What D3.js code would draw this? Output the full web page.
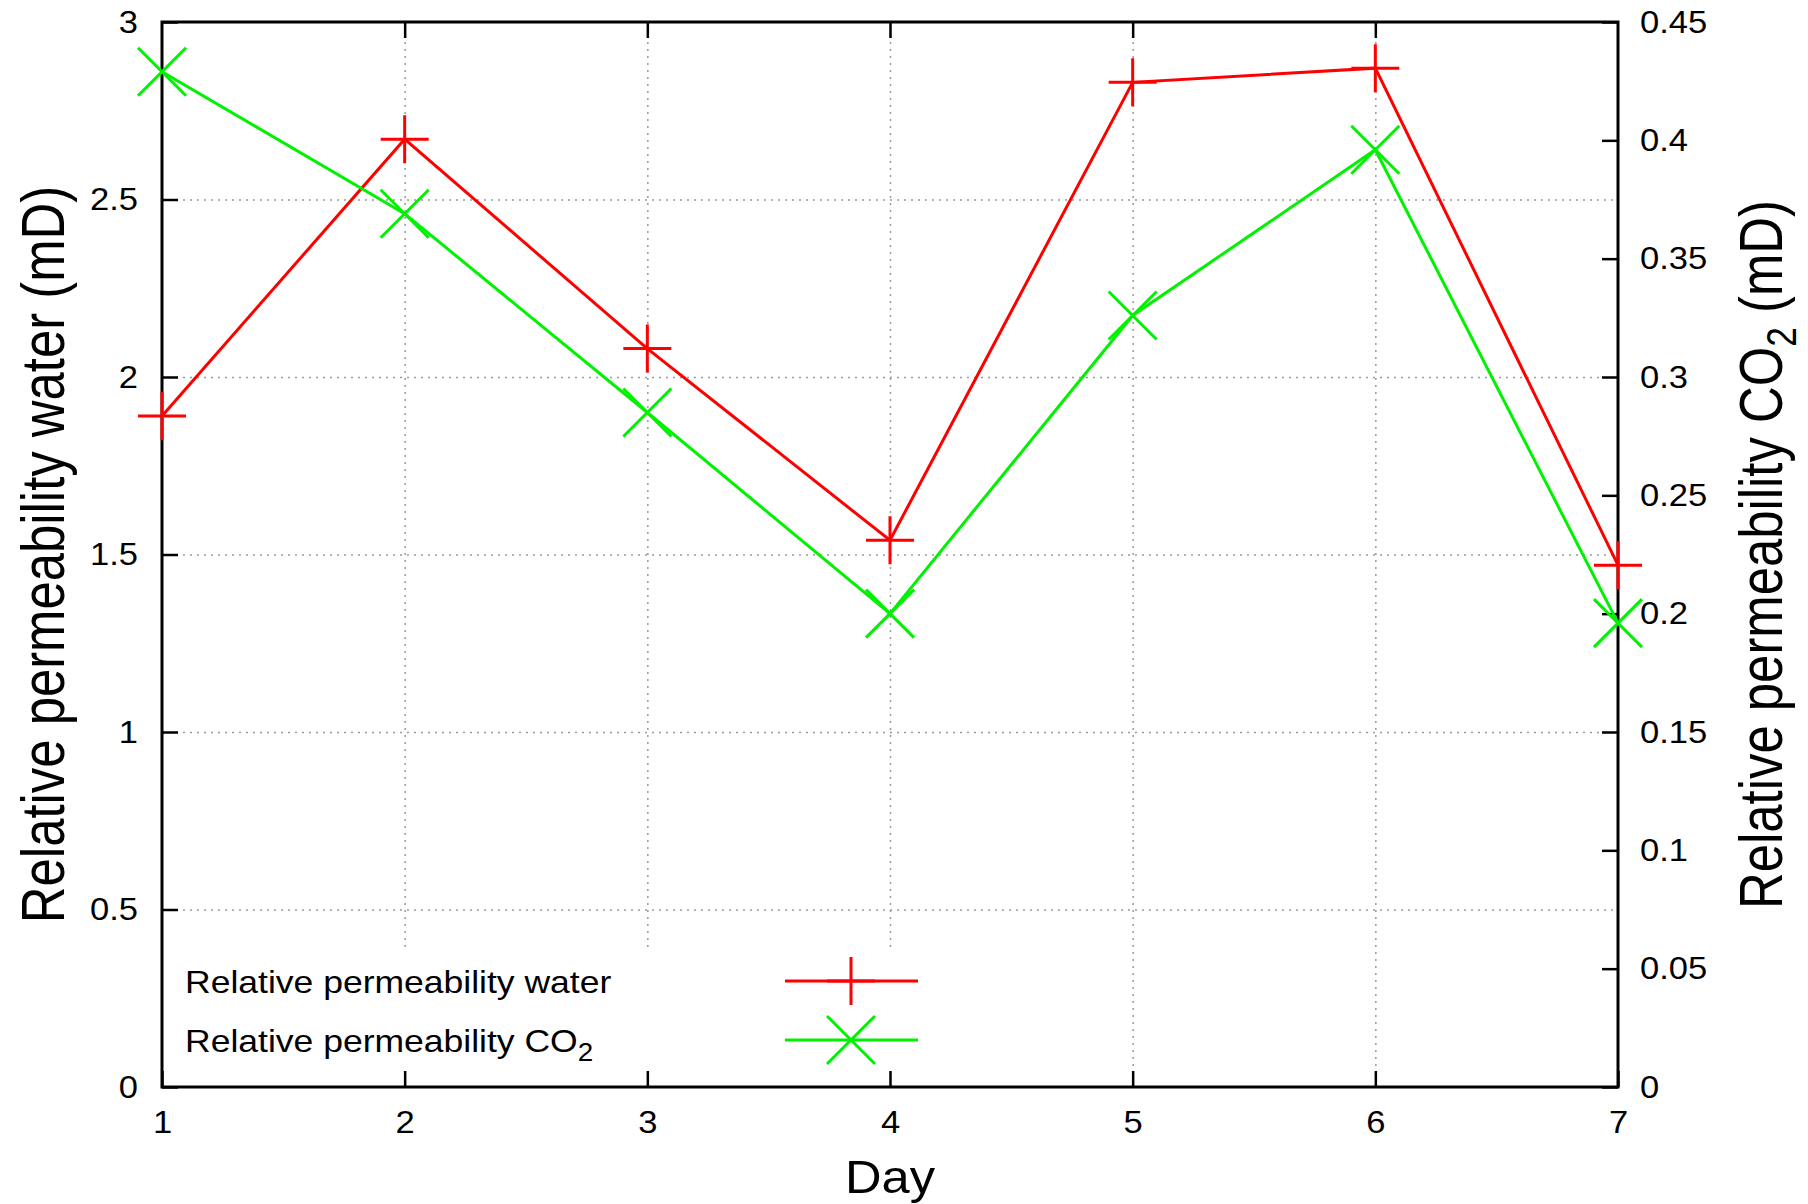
<!DOCTYPE html>
<html>
<head>
<meta charset="utf-8">
<script src="https://cdn.jsdelivr.net/npm/d3@7/dist/d3.min.js"></script>
<style>
  html, body { margin: 0; padding: 0; background: #fff; }
  svg { display: block; }
  text { font-family: "Liberation Sans", Arial, Helvetica, sans-serif; fill: #000; }
</style>
</head>
<body>
<svg id="chart" width="1808" height="1204"></svg>
<script>
// ----- data -----
const days  = [1, 2, 3, 4, 5, 6, 7];
const water = [1.89, 2.67, 2.08, 1.54, 2.83, 2.87, 1.47];        // left axis (mD)
const co2   = [0.429, 0.369, 0.285, 0.200, 0.326, 0.396, 0.196]; // right axis (mD)

const yTicks  = [0, 0.5, 1, 1.5, 2, 2.5, 3];
const y2Ticks = [0, 0.05, 0.1, 0.15, 0.2, 0.25, 0.3, 0.35, 0.4, 0.45];

const RED = '#ff0000', GREEN = '#00f200';
const M = 24;      // marker half size
const TICK = 16;   // inward tick length
const WIDE = 1.08; // horizontal text looks slightly stretched in the original

const plot = { left: 162, right: 1618, top: 22, bottom: 1087 };

const svg = d3.select('#chart');

const x  = d3.scaleLinear().domain([1, 7]).range([plot.left, plot.right]);
const y  = d3.scaleLinear().domain([0, 3]).range([plot.bottom, plot.top]);
const y2 = d3.scaleLinear().domain([0, 0.45]).range([plot.bottom, plot.top]);

const W = plot.right - plot.left, H = plot.bottom - plot.top;

// ----- grid (dotted) -----
function styleGrid(g) {
  g.select('.domain').remove();
  g.selectAll('line')
    .attr('stroke', '#9a9a9a')
    .attr('stroke-width', 1.5)
    .attr('stroke-dasharray', '2,5');
}
svg.append('g')
  .attr('transform', `translate(0,${plot.bottom})`)
  .call(d3.axisBottom(x).tickValues(days.slice(1, -1)).tickSize(-H).tickFormat(''))
  .call(styleGrid);
svg.append('g')
  .attr('transform', `translate(${plot.left},0)`)
  .call(d3.axisLeft(y).tickValues(yTicks.slice(1, -1)).tickSize(-W).tickFormat(''))
  .call(styleGrid);

// legend box is opaque, hides the grid behind it
svg.append('rect')
  .attr('x', plot.left + 3).attr('y', 951)
  .attr('width', 770).attr('height', 120)
  .attr('fill', '#fff');

// ----- axes -----
function styleAxis(g) {
  g.select('.domain').remove();
  g.attr('font-family', '"Liberation Sans", Arial, sans-serif')
   .attr('font-size', 32);
  g.selectAll('line').attr('stroke', '#000').attr('stroke-width', 2.5);
  g.selectAll('text')
    .attr('fill', '#000')
    .each(function() {
      const t = d3.select(this);
      const tx = +t.attr('x') || 0;
      t.attr('x', tx / WIDE).attr('transform', `scale(${WIDE},1)`);
    });
}
const fmt = d => d3.format('~g')(d);

svg.append('g')
  .attr('transform', `translate(0,${plot.bottom})`)
  .call(d3.axisBottom(x).tickValues(days).tickSize(-TICK).tickPadding(23).tickFormat(fmt))
  .call(styleAxis);
svg.append('g')
  .attr('transform', `translate(0,${plot.top})`)
  .call(d3.axisTop(x).tickValues(days.slice(1, -1)).tickSize(-TICK).tickFormat(''))
  .call(styleAxis);
svg.append('g')
  .attr('transform', `translate(${plot.left},0)`)
  .call(d3.axisLeft(y).tickValues(yTicks).tickSize(-TICK).tickPadding(24).tickFormat(fmt))
  .call(styleAxis);
svg.append('g')
  .attr('transform', `translate(${plot.right},0)`)
  .call(d3.axisRight(y2).tickValues(y2Ticks).tickSize(-TICK).tickPadding(22).tickFormat(fmt))
  .call(styleAxis);

// border
svg.append('rect')
  .attr('x', plot.left).attr('y', plot.top)
  .attr('width', W).attr('height', H)
  .attr('fill', 'none')
  .attr('stroke', '#000')
  .attr('stroke-width', 3);

// ----- series -----
const plusPath  = (cx, cy) => `M${cx - M},${cy}H${cx + M}M${cx},${cy - M}V${cy + M}`;
const crossPath = (cx, cy) => `M${cx - M},${cy - M}L${cx + M},${cy + M}M${cx - M},${cy + M}L${cx + M},${cy - M}`;

const series = [
  { name: 'water', values: water, scale: y,  color: RED,   marker: plusPath },
  { name: 'co2',   values: co2,   scale: y2, color: GREEN, marker: crossPath }
];

series.forEach(s => {
  const line = d3.line()
    .x((d, i) => x(days[i]))
    .y(d => s.scale(d));
  svg.append('path')
    .datum(s.values)
    .attr('d', line)
    .attr('fill', 'none')
    .attr('stroke', s.color)
    .attr('stroke-width', 3);
  svg.append('g').selectAll('path')
    .data(s.values)
    .enter()
    .append('path')
    .attr('d', (d, i) => s.marker(x(days[i]), s.scale(d)))
    .attr('stroke', s.color)
    .attr('stroke-width', 3)
    .attr('fill', 'none');
});

// ----- legend -----
const legend = svg.append('g');
const legendRows = [
  { label: 'Relative permeability water', sub: null, y: 981, color: RED,   marker: plusPath },
  { label: 'Relative permeability CO',    sub: '2',  y: 1040, color: GREEN, marker: crossPath }
];
legendRows.forEach(r => {
  const t = legend.append('text')
    .attr('transform', `translate(185,${r.y + 12}) scale(1.11,1)`)
    .attr('font-size', 32)
    .text(r.label);
  if (r.sub) {
    t.append('tspan').attr('font-size', 25).attr('dy', 9).text(r.sub);
  }
  legend.append('line')
    .attr('x1', 785).attr('x2', 918)
    .attr('y1', r.y).attr('y2', r.y)
    .attr('stroke', r.color).attr('stroke-width', 3);
  legend.append('path')
    .attr('d', r.marker(851, r.y))
    .attr('stroke', r.color).attr('stroke-width', 3).attr('fill', 'none');
});

// ----- titles -----
svg.append('text')
  .attr('transform', `translate(${(plot.left + plot.right) / 2},1193) scale(1.1,1)`)
  .attr('text-anchor', 'middle')
  .attr('font-size', 46)
  .text('Day');

const midY = (plot.top + plot.bottom) / 2;
svg.append('text')
  .attr('transform', `translate(64,${midY}) rotate(-90) scale(0.82,1)`)
  .attr('text-anchor', 'middle')
  .attr('font-size', 62)
  .text('Relative permeability water (mD)');

const t2 = svg.append('text')
  .attr('transform', `translate(1782,${midY}) rotate(-90) scale(0.82,1)`)
  .attr('text-anchor', 'middle')
  .attr('font-size', 62);
t2.append('tspan').text('Relative permeability CO');
t2.append('tspan').attr('font-size', 43).attr('dy', 14).text('2');
t2.append('tspan').attr('dy', -14).text(' (mD)');
</script>
</body>
</html>
